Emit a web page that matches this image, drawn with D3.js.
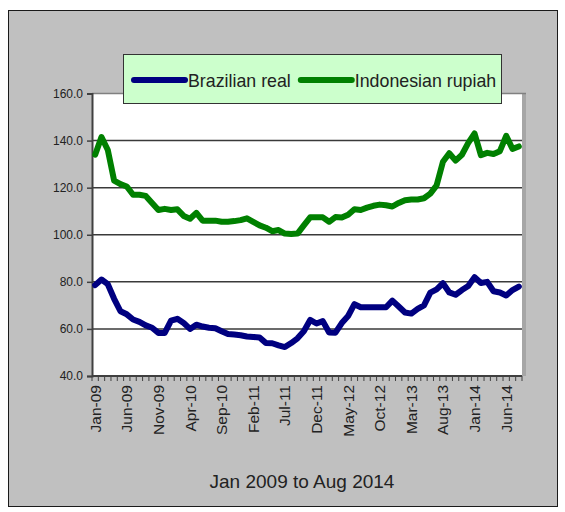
<!DOCTYPE html>
<html>
<head>
<meta charset="utf-8">
<script src="https://cdn.jsdelivr.net/npm/d3@7"></script>
<style>
  html, body { margin: 0; padding: 0; background: #ffffff; }
  svg { display: block; font-family: Arial, "Liberation Sans", sans-serif; }
</style>
</head>
<body>
<svg id="chart" width="565" height="512"></svg>
<script>
// ---- Data ----
const startMonth = new Date(2009, 0, 1);
const endMonth = new Date(2014, 7, 1);
const categories = d3.timeMonth.range(startMonth, d3.timeMonth.offset(endMonth, 1)).map(d3.timeFormat("%b-%y"));

const brazilianReal = [
  78.6, 81.0, 79.0, 72.8, 67.5, 66.2, 64.0, 63.0, 61.5, 60.5, 58.3, 58.3,
  63.5, 64.3, 62.5, 60.0, 61.8, 61.0, 60.5, 60.3, 59.0, 57.8, 57.6, 57.3,
  56.8, 56.6, 56.4, 54.0, 53.9, 53.0, 52.3, 54.0, 56.0, 59.0, 63.8, 62.3,
  63.3, 58.5, 58.4, 62.5, 65.5, 70.5, 69.2, 69.2, 69.2, 69.2, 69.2, 72.0,
  69.5, 67.0, 66.5, 68.5, 70.0, 75.4, 76.8, 79.4, 75.5, 74.5, 76.5, 78.2,
  82.0, 79.5, 80.0, 76.0, 75.5, 74.2, 76.5, 78.0
];
const indonesianRupiah = [
  134.0, 141.5, 136.0, 123.0, 121.5, 120.5, 117.0, 117.0, 116.5, 113.5, 110.5, 111.0,
  110.5, 110.8, 108.0, 106.8, 109.3, 106.0, 106.0, 106.0, 105.5, 105.5, 105.8, 106.2,
  107.0, 105.5, 104.0, 103.0, 101.5, 102.0, 100.5, 100.3, 100.5, 104.0, 107.4, 107.4,
  107.4, 105.5, 107.5, 107.3, 108.5, 110.8, 110.5, 111.5, 112.3, 112.8, 112.5, 112.0,
  113.5, 114.7, 115.0, 115.0, 115.5, 117.5, 121.0, 131.0, 134.6, 131.5, 134.0, 139.0,
  143.0, 133.8, 134.8, 134.3, 135.5, 142.0, 136.5, 137.5
];
const seriesNames = ["Brazilian real", "Indonesian rupiah"];
const seriesColors = ["#000080", "#008000"];
const yTicks = [40, 60, 80, 100, 120, 140, 160];
const xTickLabels = ["Jan-09","Jun-09","Nov-09","Apr-10","Sep-10","Feb-11","Jul-11","Dec-11","May-12","Oct-12","Mar-13","Aug-13","Jan-14","Jun-14"];
const caption = "Jan 2009 to Aug 2014";

// ---- Layout ----
const svg = d3.select("#chart");
const plot = { left: 92, top: 93.5, right: 522, bottom: 376 };

svg.append("rect").attr("x", 0).attr("y", 0).attr("width", 565).attr("height", 512).attr("fill", "#ffffff");
svg.append("rect").attr("x", 8.5).attr("y", 10.5).attr("width", 549).attr("height", 496)
  .attr("fill", "#c0c0c0").attr("stroke", "#1a1a1a").attr("stroke-width", 1);

const x = d3.scaleBand().domain(categories).range([plot.left, plot.right]).padding(0);
const y = d3.scaleLinear().domain([40, 160]).range([plot.bottom, plot.top]);
const cx = d => x(d) + x.bandwidth() / 2;

// plot area
svg.append("rect").attr("x", plot.left).attr("y", plot.top)
  .attr("width", plot.right - plot.left).attr("height", plot.bottom - plot.top)
  .attr("fill", "#ffffff");
// right/top gray border
svg.append("line").attr("x1", plot.right + 2).attr("x2", plot.right + 2)
  .attr("y1", plot.top).attr("y2", plot.bottom)
  .attr("stroke", "#a6a6a6").attr("stroke-width", 4);
svg.append("line").attr("x1", plot.left).attr("x2", plot.right + 4)
  .attr("y1", plot.top).attr("y2", plot.top)
  .attr("stroke", "#808080").attr("stroke-width", 1.5);

// gridlines
svg.append("g").selectAll("line").data(yTicks.filter(t => t > 40 && t < 160)).join("line")
  .attr("x1", plot.left).attr("x2", plot.right)
  .attr("y1", d => y(d)).attr("y2", d => y(d))
  .attr("stroke", "#3a3a3a").attr("stroke-width", 1.5);

// Y axis
const yAxis = svg.append("g").attr("transform", `translate(${plot.left},0)`)
  .call(d3.axisLeft(y).tickValues(yTicks).tickFormat(d3.format(".1f")).tickSize(5).tickPadding(4));
yAxis.select(".domain").attr("stroke", "#404040").attr("stroke-width", 2);
yAxis.selectAll(".tick line").attr("stroke", "#404040").attr("stroke-width", 1.5);
yAxis.selectAll(".tick text").attr("font-size", 12).attr("fill", "#222")
  .attr("font-family", "Arial, 'Liberation Sans', sans-serif");

// X axis
const xg = svg.append("g");
xg.append("line").attr("x1", plot.left).attr("x2", plot.right)
  .attr("y1", plot.bottom).attr("y2", plot.bottom)
  .attr("stroke", "#404040").attr("stroke-width", 2);
const boundaries = categories.map(c => x(c)).concat([plot.right]);
xg.selectAll("line.tk").data(boundaries).join("line").attr("class", "tk")
  .attr("x1", d => d).attr("x2", d => d)
  .attr("y1", plot.bottom).attr("y2", plot.bottom + 5)
  .attr("stroke", "#404040").attr("stroke-width", 1);
xg.selectAll("text").data(xTickLabels).join("text")
  .attr("transform", d => `translate(${cx(d) + 5.5},${plot.bottom + 9}) rotate(-90)`)
  .attr("text-anchor", "end")
  .attr("font-size", 15.5).attr("fill", "#222")
  .text(d => d);

// lines
const seriesData = [brazilianReal, indonesianRupiah];
const line = d3.line().x((d, i) => cx(categories[i])).y(d => y(d));
svg.append("g").selectAll("path").data(seriesData).join("path")
  .attr("d", d => line(d))
  .attr("fill", "none")
  .attr("stroke", (d, i) => seriesColors[i])
  .attr("stroke-width", 6)
  .attr("stroke-linejoin", "round")
  .attr("stroke-linecap", "round");

// Legend
const legend = svg.append("g");
legend.append("rect").attr("x", 123.5).attr("y", 54.5).attr("width", 378).attr("height", 49)
  .attr("fill", "#ccffcc").attr("stroke", "#333").attr("stroke-width", 1);
let lx = 134;
seriesNames.forEach((name, i) => {
  legend.append("line").attr("x1", lx).attr("x2", lx + 51).attr("y1", 80).attr("y2", 80)
    .attr("stroke", seriesColors[i]).attr("stroke-width", 6).attr("stroke-linecap", "round");
  const t = legend.append("text").attr("x", lx + 54).attr("y", 86.5)
    .attr("font-size", 17.8).attr("fill", "#222").text(name);
  lx = lx + 54 + t.node().getComputedTextLength() + 10;
});

// Caption
svg.append("text").attr("x", 302).attr("y", 488).attr("text-anchor", "middle")
  .attr("font-size", 19).attr("fill", "#222").text(caption);
</script>
</body>
</html>
